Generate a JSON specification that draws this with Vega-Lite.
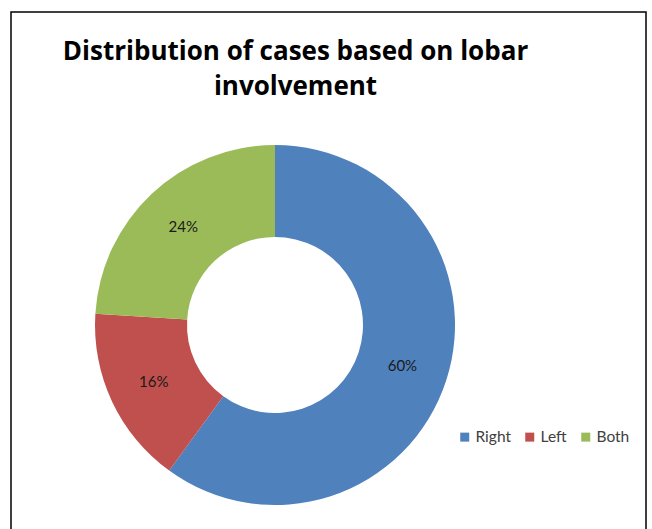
{
  "$schema": "https://vega.github.io/schema/vega-lite/v6.json",
  "autosize": "none",
  "width": 635,
  "height": 525,
  "padding": {"left": 11, "top": 12, "right": 6, "bottom": 0},
  "background": "white",
  "view": {"stroke": "#000000", "strokeWidth": 1.5},
  "config": {
    "view": {"stroke": "#000000", "strokeWidth": 1.5},
    "font": "Lato"
  },
  "title": {
    "text": ["Distribution of cases based on lobar", "involvement"],
    "orient": "top",
    "anchor": "middle",
    "font": "Open Sans",
    "fontSize": 26,
    "fontWeight": "bold",
    "color": "#000000",
    "lineHeight": 35,
    "baseline": "alphabetic",
    "offset": 0,
    "dx": -33,
    "dy": 109
  },
  "data": {
    "values": [
      {"lobe": "Right", "pct": 60, "rank": 1, "label": "60%"},
      {"lobe": "Left", "pct": 16, "rank": 2, "label": "16%"},
      {"lobe": "Both", "pct": 24, "rank": 3, "label": "24%"}
    ]
  },
  "encoding": {
    "theta": {"field": "pct", "type": "quantitative", "stack": true},
    "order": {"field": "rank", "type": "ordinal"},
    "color": {
      "field": "lobe",
      "type": "nominal",
      "sort": ["Right", "Left", "Both"],
      "scale": {"domain": ["Right", "Left", "Both"], "range": ["#4F81BD", "#C0504D", "#9BBB59"]},
      "legend": {
        "orient": "none",
        "legendX": 446,
        "legendY": 417,
        "direction": "horizontal",
        "title": null,
        "symbolType": "square",
        "symbolSize": 81,
        "symbolStrokeWidth": 0,
        "labelFont": "Lato",
        "labelFontSize": 15.5,
        "labelColor": "#404040",
        "labelOffset": 3,
        "columnPadding": 11,
        "padding": 0
      }
    }
  },
  "layer": [
    {
      "mark": {"type": "arc", "innerRadius": 88, "outerRadius": 180, "x": {"expr": "width*264/635"}, "y": {"expr": "height*313/525"}}
    },
    {
      "mark": {"type": "text", "radius": 134, "fontSize": 15, "font": "Lato", "color": "#1a1a1a", "x": {"expr": "width*264/635"}, "y": {"expr": "height*313/525"}},
      "encoding": {
        "text": {"field": "label"},
        "color": {"value": "#1a1a1a"}
      }
    }
  ]
}
